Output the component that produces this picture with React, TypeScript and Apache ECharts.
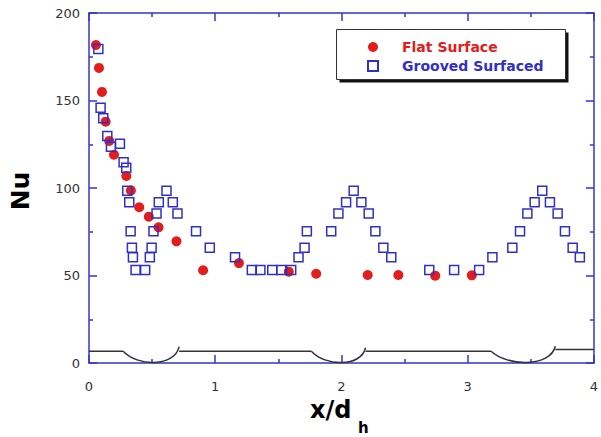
import React, { useEffect, useRef } from "react";
import * as echarts from "echarts";

// Flat surface (red dots)
const flatX = [0.055, 0.079, 0.103, 0.132, 0.16, 0.198, 0.296, 0.332, 0.398, 0.474, 0.551, 0.693, 0.904, 1.188, 1.583, 1.8, 2.208, 2.451, 2.743, 3.033];
const flatY = [181.7, 168.6, 154.9, 137.9, 126.9, 119.0, 106.9, 98.6, 89.0, 83.6, 77.5, 69.5, 53.0, 57.1, 52.2, 51.0, 50.3, 50.3, 49.9, 50.1];

// Grooved surface (blue squares)
const groovedX = [0.074, 0.092, 0.113, 0.145, 0.174, 0.245, 0.274, 0.295, 0.303, 0.319, 0.33, 0.34, 0.348, 0.369, 0.445, 0.482, 0.496, 0.511, 0.535, 0.553, 0.614, 0.664, 0.701, 0.848, 0.957, 1.157, 1.29, 1.358, 1.452, 1.523, 1.602, 1.66, 1.708, 1.726, 1.919, 1.976, 2.037, 2.097, 2.158, 2.216, 2.269, 2.332, 2.395, 2.696, 2.893, 3.091, 3.196, 3.354, 3.415, 3.473, 3.531, 3.591, 3.652, 3.713, 3.771, 3.832, 3.889];
const groovedY = [179.4, 145.9, 139.8, 129.7, 123.6, 125.3, 114.7, 111.6, 98.5, 91.8, 75.3, 65.9, 60.4, 53.1, 53.1, 60.4, 65.9, 75.3, 85.5, 91.8, 98.5, 91.8, 85.5, 75.3, 65.9, 60.4, 53.1, 53.1, 53.1, 53.1, 53.1, 60.4, 65.9, 75.3, 75.3, 85.5, 91.8, 98.5, 91.8, 85.5, 75.3, 65.9, 60.4, 53.1, 53.1, 53.1, 60.4, 65.9, 75.3, 85.5, 91.8, 98.5, 91.8, 85.5, 75.3, 65.9, 60.4];

// Surface profile schematic
const flatSegStart = [0, 0.714, 2.191, 3.695];
const flatSegEnd = [0.271, 1.762, 3.186, 4];
const flatSegLevel = [6.7, 6.7, 6.7, 7.7];
const grooveStart = [0.271, 1.762, 3.186];
const grooveEnd = [0.714, 2.191, 3.695];
const grooveStartLevel = [6.7, 6.7, 6.7];
const grooveEndLevel = [9.4, 8.7, 9.6];

const xTickValues = { min: 0, max: 4, interval: 1 };
const yTickValues = { min: 0, max: 200, interval: 50 };

const AXIS = "#3535d0";
const RED = "#e31c1c";
const BLUE = "#3030c8";
const FONT = "DejaVu Sans";

function makeAxis(kind: "x" | "y", position: string, showLabel: boolean, t: any) {
  return {
    type: "value",
    position,
    min: t.min,
    max: t.max,
    interval: t.interval,
    axisLine: { show: true, onZero: false, lineStyle: { color: AXIS, width: 1.5 } },
    axisTick: { show: true, inside: true, length: 8, lineStyle: { color: AXIS, width: 1.5 } },
    minorTick: { show: true, splitNumber: 2, length: 4, lineStyle: { color: AXIS, width: 1.5 } },
    axisLabel: {
      show: showLabel,
      color: "#333",
      fontSize: 13,
      fontFamily: FONT,
      margin: kind === "x" ? 17 : 9,
    },
    splitLine: { show: false },
    minorSplitLine: { show: false },
  };
}

export default function App() {
  const ref = useRef<HTMLDivElement>(null);
  useEffect(() => {
    document.body.style.margin = "0";
    const chart = echarts.init(ref.current!, null, { renderer: "svg" });
    const flatData = flatX.map((x, i) => [x, flatY[i]]);
    const groovedData = groovedX.map((x, i) => [x, groovedY[i]]);
    const segData = flatSegStart.map((s, i) => [s, flatSegEnd[i], flatSegLevel[i]]);
    const grooveData = grooveStart.map((s, i) => [s, grooveEnd[i], grooveStartLevel[i], grooveEndLevel[i]]);

    chart.setOption({
      animation: false,
      grid: { left: 89, right: 6, top: 13, bottom: 74, containLabel: false },
      xAxis: [makeAxis("x", "bottom", true, xTickValues), makeAxis("x", "top", false, xTickValues)],
      yAxis: [makeAxis("y", "left", true, yTickValues), makeAxis("y", "right", false, yTickValues)],
      legend: {
        orient: "vertical",
        left: 362,
        top: 35,
        itemWidth: 10,
        itemHeight: 10,
        itemGap: 5,
        z: 10,
        selectedMode: false,
        textStyle: { fontFamily: FONT, fontWeight: "bold", fontSize: 14, padding: [0, 0, 0, 19] },
        data: [
          { name: "Flat Surface", textStyle: { color: RED } },
          { name: "Grooved Surfaced", textStyle: { color: BLUE } },
        ],
      },
      graphic: [
        { type: "rect", z: 1, shape: { x: 339.5, y: 32.5, width: 229, height: 50 }, style: { fill: "#111" } },
        { type: "rect", z: 2, shape: { x: 336.5, y: 29.5, width: 229, height: 50 }, style: { fill: "#fff", stroke: "#333", lineWidth: 1 } },
        {
          type: "text",
          x: 20,
          y: 191,
          rotation: Math.PI / 2,
          style: { text: "Nu", font: `bold 25px "${FONT}"`, fill: "#000", align: "center", verticalAlign: "middle" },
        },
        {
          type: "text",
          x: 310,
          y: 410,
          style: { text: "x/d", font: `bold 24px "${FONT}"`, fill: "#000", align: "left", verticalAlign: "middle" },
        },
        {
          type: "text",
          x: 358,
          y: 428,
          style: { text: "h", font: `bold 15px "${FONT}"`, fill: "#000", align: "left", verticalAlign: "middle" },
        },
      ],
      series: [
        {
          type: "custom",
          name: "profile-flat",
          silent: true,
          clip: false,
          encode: { x: [0, 1], y: 2 },
          data: segData,
          renderItem: (params: any, api: any) => {
            const p0 = api.coord([api.value(0), api.value(2)]);
            const p1 = api.coord([api.value(1), api.value(2)]);
            return {
              type: "line",
              shape: { x1: p0[0], y1: p0[1], x2: p1[0], y2: p1[1] },
              style: { stroke: "#333", lineWidth: 1.5 },
            };
          },
        },
        {
          type: "custom",
          name: "profile-groove",
          silent: true,
          clip: false,
          encode: { x: [0, 1], y: [2, 3] },
          data: grooveData,
          renderItem: (params: any, api: any) => {
            const x0 = api.value(0);
            const x1 = api.value(1);
            const w = x1 - x0;
            const p0 = api.coord([x0, api.value(2)]);
            const c1 = api.coord([x0 + 0.25 * w, -2]);
            const c2 = api.coord([x1 - 0.08 * w, -2.5]);
            const p3 = api.coord([x1, api.value(3)]);
            return {
              type: "bezierCurve",
              shape: { x1: p0[0], y1: p0[1], x2: p3[0], y2: p3[1], cpx1: c1[0], cpy1: c1[1], cpx2: c2[0], cpy2: c2[1] },
              style: { stroke: "#333", lineWidth: 1.5, fill: null },
            };
          },
        },
        {
          type: "scatter",
          name: "Flat Surface",
          symbol: "circle",
          symbolSize: 10,
          itemStyle: { color: RED, opacity: 1 },
          data: flatData,
        },
        {
          type: "scatter",
          name: "Grooved Surfaced",
          symbol: "rect",
          symbolSize: 9,
          itemStyle: { color: "rgba(255,255,255,0)", borderColor: BLUE, borderWidth: 1.5, opacity: 1 },
          data: groovedData,
        },
      ],
    });
    return () => chart.dispose();
  }, []);
  return <div ref={ref} style={{ width: 601, height: 437 }} />;
}
